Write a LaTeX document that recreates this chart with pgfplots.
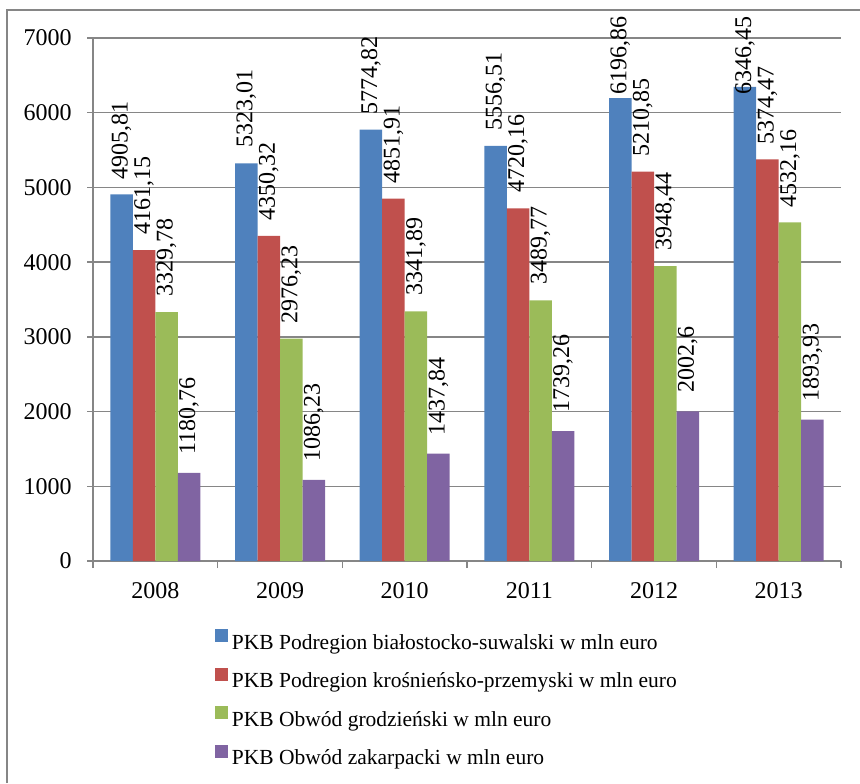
\documentclass[border=0pt]{standalone}
\usepackage{fontspec}
\setmainfont{Liberation Serif}
\usepackage{pgfplots}
\pgfplotsset{compat=1.18}

\definecolor{s1}{HTML}{4F81BD}
\definecolor{s2}{HTML}{C0504D}
\definecolor{s3}{HTML}{9BBB59}
\definecolor{s4}{HTML}{8064A2}
\definecolor{gridgray}{RGB}{134,134,134}

\begin{document}
\begin{tikzpicture}
\useasboundingbox (0,0) rectangle (430pt,-391.5pt);
\draw[gridgray, line width=0.75pt] (3.5pt,-391.5pt) -- (3.5pt,-5pt) -- (430pt,-5pt);
\begin{axis}[
    at={(46.5pt,-280.5pt)}, anchor=south west,
    scale only axis, width=374pt, height=261.5pt,
    xmin=-0.5, xmax=5.5, ymin=0, ymax=7000,
    ybar=0pt, bar width=11.25pt,
    every axis plot post/.append style={
        legend image code/.code={\fill[##1] (0pt,0.8pt) rectangle (6.5pt,7.3pt);}},
    axis x line*=bottom, axis y line*=left,
    axis line style={gridgray, line width=0.75pt, -},
    ytick={0,1000,...,7000}, ymajorgrids,
    grid style={gridgray, line width=0.75pt},
    xtick={0,...,5}, xticklabels={2008,2009,2010,2011,2012,2013},
    major x tick style={draw=none},
    minor xtick={-0.5,0.5,...,5.5},
    tick style={gridgray, line width=0.75pt},
    tick align=outside, major tick length=3pt, minor tick length=3.5pt,
    ticklabel style={font=\fontsize{12}{14}\selectfont},
    /pgf/number format/assume math mode=true,
    /pgf/number format/set thousands separator={},
    yticklabel style={inner sep=0pt, xshift=-7.5pt},
    xticklabel style={inner sep=0pt, yshift=-7.75pt},
    clip=false,
    nodes near coords, point meta=explicit symbolic,
    every node near coord/.append style={font=\fontsize{12}{14}\selectfont,
        rotate=90, anchor=west, inner xsep=7.5pt, inner ysep=0pt},
    legend style={at={(0.163,-0.130)}, anchor=north west, draw=none, fill=none,
        inner sep=0pt, outer sep=0pt, font=\fontsize{10.75}{12}\selectfont,
        row sep=6.75pt, column sep=2pt,
        nodes={inner sep=0pt, text height=8pt, text depth=2.5pt}},
    legend cell align=left,
]
% labels of 2012 and 2013 sit lower: they are kept inside the chart area
\addplot[fill=s1, draw=none] coordinates {
    (0,4905.81) [4905,81]
    (1,5323.01) [5323,01]
    (2,5774.82) [5774,82]
    (3,5556.51) [5556,51]
    (4,6196.86) [\hspace*{-6pt}6196,86]
    (5,6346.45) [\hspace*{-11.5pt}6346,45]
};
\addplot[fill=s2, draw=none] coordinates {
    (0,4161.15) [4161,15]
    (1,4350.32) [4350,32]
    (2,4851.91) [4851,91]
    (3,4720.16) [4720,16]
    (4,5210.85) [5210,85]
    (5,5374.47) [5374,47]
};
\addplot[fill=s3, draw=none] coordinates {
    (0,3329.78) [3329,78]
    (1,2976.23) [2976,23]
    (2,3341.89) [3341,89]
    (3,3489.77) [3489,77]
    (4,3948.44) [3948,44]
    (5,4532.16) [4532,16]
};
\addplot[fill=s4, draw=none,
    every node near coord/.append style={inner xsep=9pt}] coordinates {
    (0,1180.76) [1180,76]
    (1,1086.23) [1086,23]
    (2,1437.84) [1437,84]
    (3,1739.26) [1739,26]
    (4,2002.6) [2002,6]
    (5,1893.93) [1893,93]
};
\legend{PKB Podregion białostocko-suwalski w mln euro,
        PKB Podregion krośnieńsko-przemyski w mln euro,
        PKB Obwód grodzieński w mln euro,
        PKB Obwód zakarpacki w mln euro}
\end{axis}
\end{tikzpicture}
\end{document}
